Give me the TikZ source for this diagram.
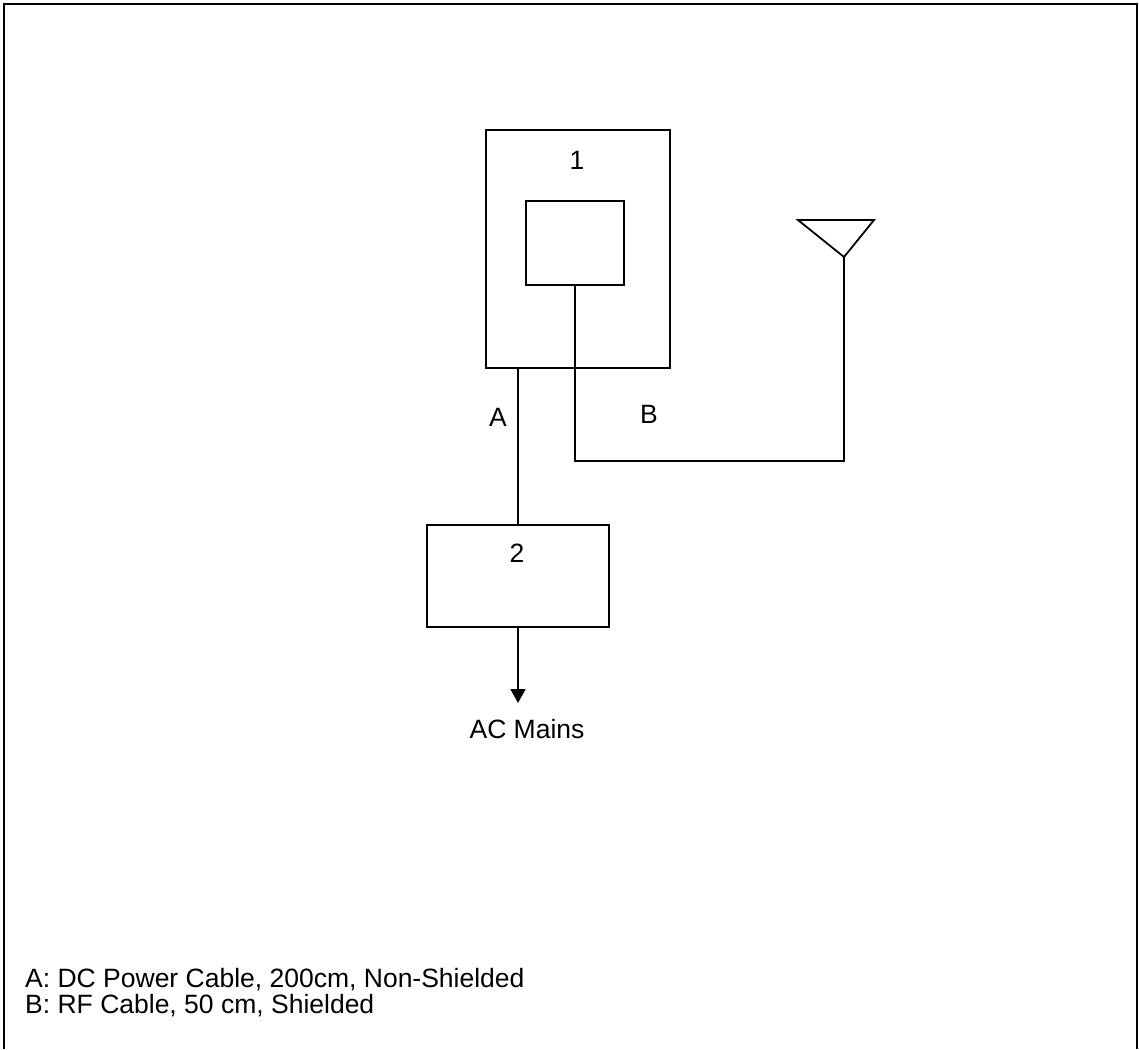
\documentclass[tikz,border=0pt]{standalone}
\usepackage{fontspec}
\setmainfont{Liberation Sans}
\usetikzlibrary{arrows.meta}
\begin{document}
\begin{tikzpicture}[x=1pt,y=-1pt,
  box/.style={draw,line width=1.8pt,inner sep=0pt},
  wire/.style={line width=1.8pt},
  lbl/.style={inner sep=0pt,font=\fontsize{26.5}{25}\selectfont},
  frame/.style={line width=2.4pt}]
\useasboundingbox (0,0) rectangle (1139,1049);
% frame
\draw[frame] (4,1049) -- (4,4) -- (1137,4) -- (1137,1049);
% boxes
\node[box,minimum width=184pt,minimum height=238pt] (eut) at (578,249) {};
\node[box,minimum width=98pt,minimum height=84pt] (inner) at (575,243) {};
\node[box,minimum width=182pt,minimum height=102pt] (psu) at (518,576) {};
\node[lbl] (n1) at (577,160) {1};
\node[lbl] (n2) at (517,553) {2};
% antenna
\coordinate (apex) at (844,257);
\coordinate (tl) at (798,220);
\coordinate (tr) at (874,220);
\draw[wire,line join=miter] (tl) -- (tr) -- (apex) -- cycle;
% cable A
\draw[wire] (psu.north) -- (psu.north |- eut.south);
\node[lbl] (la) at (498,417) {A};
% cable B
\coordinate (bend) at (844,461);
\draw[wire] (inner.south) |- (bend) -- (apex);
\node[lbl] (lb) at (649,414) {B};
% AC mains
\node[lbl] (mains) at (527,729) {AC Mains};
\coordinate (tip) at (518,703);
\draw[wire,-{Triangle[width=15pt,length=14pt]}] (psu.south) -- (tip);
% legend
\node[lbl,anchor=base west] (leg1) at (25,987) {A: DC Power Cable, 200cm, Non-Shielded};
\node[lbl,anchor=base west] (leg2) at (25,1013) {B: RF Cable, 50 cm, Shielded};
\end{tikzpicture}
\end{document}
